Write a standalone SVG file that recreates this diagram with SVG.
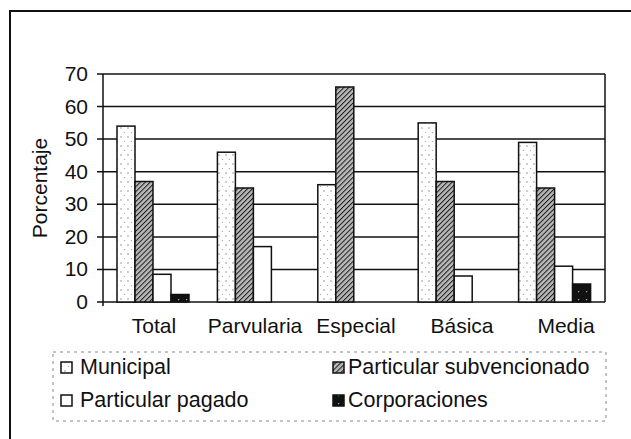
<svg xmlns="http://www.w3.org/2000/svg" width="631" height="439" viewBox="0 0 631 439">
<defs>
<pattern id="dots" width="7" height="9" patternUnits="userSpaceOnUse">
<rect width="7" height="9" fill="#fff"/>
<circle cx="2" cy="2" r="0.7" fill="#777"/>
<circle cx="5.5" cy="6.5" r="0.6" fill="#999"/>
</pattern>
<pattern id="hatch" width="3.5" height="3.5" patternUnits="userSpaceOnUse" patternTransform="rotate(45)">
<rect width="3.5" height="3.5" fill="#b8b8b8"/>
<line x1="0" y1="0" x2="0" y2="3.5" stroke="#1a1a1a" stroke-width="2"/>
</pattern>
<pattern id="speck" width="8" height="8" patternUnits="userSpaceOnUse">
<rect width="8" height="8" fill="#111"/>
<rect x="2" y="3" width="1.2" height="1.2" fill="#aaa"/>
</pattern>
</defs>
<style>
.t{font-family:"Liberation Sans",Arial,sans-serif;fill:#111}
.ax{font-size:21px}
.lg{font-size:21.5px}
.grid{stroke:#111;stroke-width:1.5;fill:none}
.bar{stroke:#111;stroke-width:1.5}
.mun{fill:url(#dots)}
.sub{fill:url(#hatch)}
.pag{fill:#fff}
.cor{fill:url(#speck)}
</style>
<rect width="631" height="439" fill="#fff"/>
<g id="frame" fill="none" stroke="#111" stroke-width="2">
<path d="M10,439 V11 H631"/>
</g>
<g id="grid" class="grid">
<line x1="97" y1="74" x2="605" y2="74"/>
<line x1="97" y1="106.6" x2="605" y2="106.6"/>
<line x1="97" y1="139.1" x2="605" y2="139.1"/>
<line x1="97" y1="171.7" x2="605" y2="171.7"/>
<line x1="97" y1="204.3" x2="605" y2="204.3"/>
<line x1="97" y1="236.9" x2="605" y2="236.9"/>
<line x1="97" y1="269.4" x2="605" y2="269.4"/>
<line x1="97" y1="302" x2="605" y2="302"/>
<line x1="103" y1="74" x2="103" y2="306"/>
<line x1="605" y1="74" x2="605" y2="302"/>
</g>
<g id="yaxis-labels" class="t ax" text-anchor="end">
<text x="88" y="81">70</text>
<text x="88" y="113.6">60</text>
<text x="88" y="146.1">50</text>
<text x="88" y="178.7">40</text>
<text x="88" y="211.3">30</text>
<text x="88" y="243.9">20</text>
<text x="88" y="276.4">10</text>
<text x="88" y="309">0</text>
</g>
<text id="ytitle" class="t ax" text-anchor="middle" transform="translate(47,188) rotate(-90)">Porcentaje</text>
<g id="bars">
<g id="total">
<rect class="bar mun" x="117" y="126.1" width="18" height="175.9"/>
<rect class="bar sub" x="135" y="181.5" width="18" height="120.5"/>
<rect class="bar pag" x="153" y="274.3" width="18" height="27.7"/>
<rect class="bar cor" x="171" y="294.5" width="18" height="7.5"/>
</g>
<g id="parvularia">
<rect class="bar mun" x="217.4" y="152.2" width="18" height="149.8"/>
<rect class="bar sub" x="235.4" y="188" width="18" height="114"/>
<rect class="bar pag" x="253.4" y="246.6" width="18" height="55.4"/>
</g>
<g id="especial">
<rect class="bar mun" x="317.8" y="184.7" width="18" height="117.3"/>
<rect class="bar sub" x="335.8" y="87" width="18" height="215"/>
</g>
<g id="basica">
<rect class="bar mun" x="418.2" y="122.9" width="18" height="179.1"/>
<rect class="bar sub" x="436.2" y="181.5" width="18" height="120.5"/>
<rect class="bar pag" x="454.2" y="276" width="18" height="26"/>
</g>
<g id="media">
<rect class="bar mun" x="518.6" y="142.4" width="18" height="159.6"/>
<rect class="bar sub" x="536.6" y="188" width="18" height="114"/>
<rect class="bar pag" x="554.6" y="266.2" width="18" height="35.8"/>
<rect class="bar cor" x="572.6" y="284" width="18" height="18"/>
</g>
</g>
<g id="xaxis-labels" class="t ax" text-anchor="middle">
<text x="154" y="333">Total</text>
<text x="255" y="333">Parvularia</text>
<text x="356" y="333">Especial</text>
<text x="462" y="333">Básica</text>
<text x="566" y="333">Media</text>
</g>
<g id="legend">
<rect x="53" y="352" width="553" height="69" fill="none" stroke="#888" stroke-width="1" stroke-dasharray="3,4"/>
<g id="leg-municipal">
<rect class="bar mun" x="61" y="362" width="11" height="11" stroke-width="1.2"/>
<text class="t lg" x="80" y="374">Municipal</text>
</g>
<g id="leg-subvencionado">
<rect class="bar sub" x="333" y="362" width="11" height="11" stroke-width="1.2"/>
<text class="t lg" x="348" y="374">Particular subvencionado</text>
</g>
<g id="leg-pagado">
<rect class="bar pag" x="61" y="395" width="11" height="11" stroke-width="1.2"/>
<text class="t lg" x="80" y="407">Particular pagado</text>
</g>
<g id="leg-corporaciones">
<rect class="bar cor" x="333" y="395" width="11" height="11" stroke-width="1.2"/>
<text class="t lg" x="348" y="407">Corporaciones</text>
</g>
</g>
</svg>
